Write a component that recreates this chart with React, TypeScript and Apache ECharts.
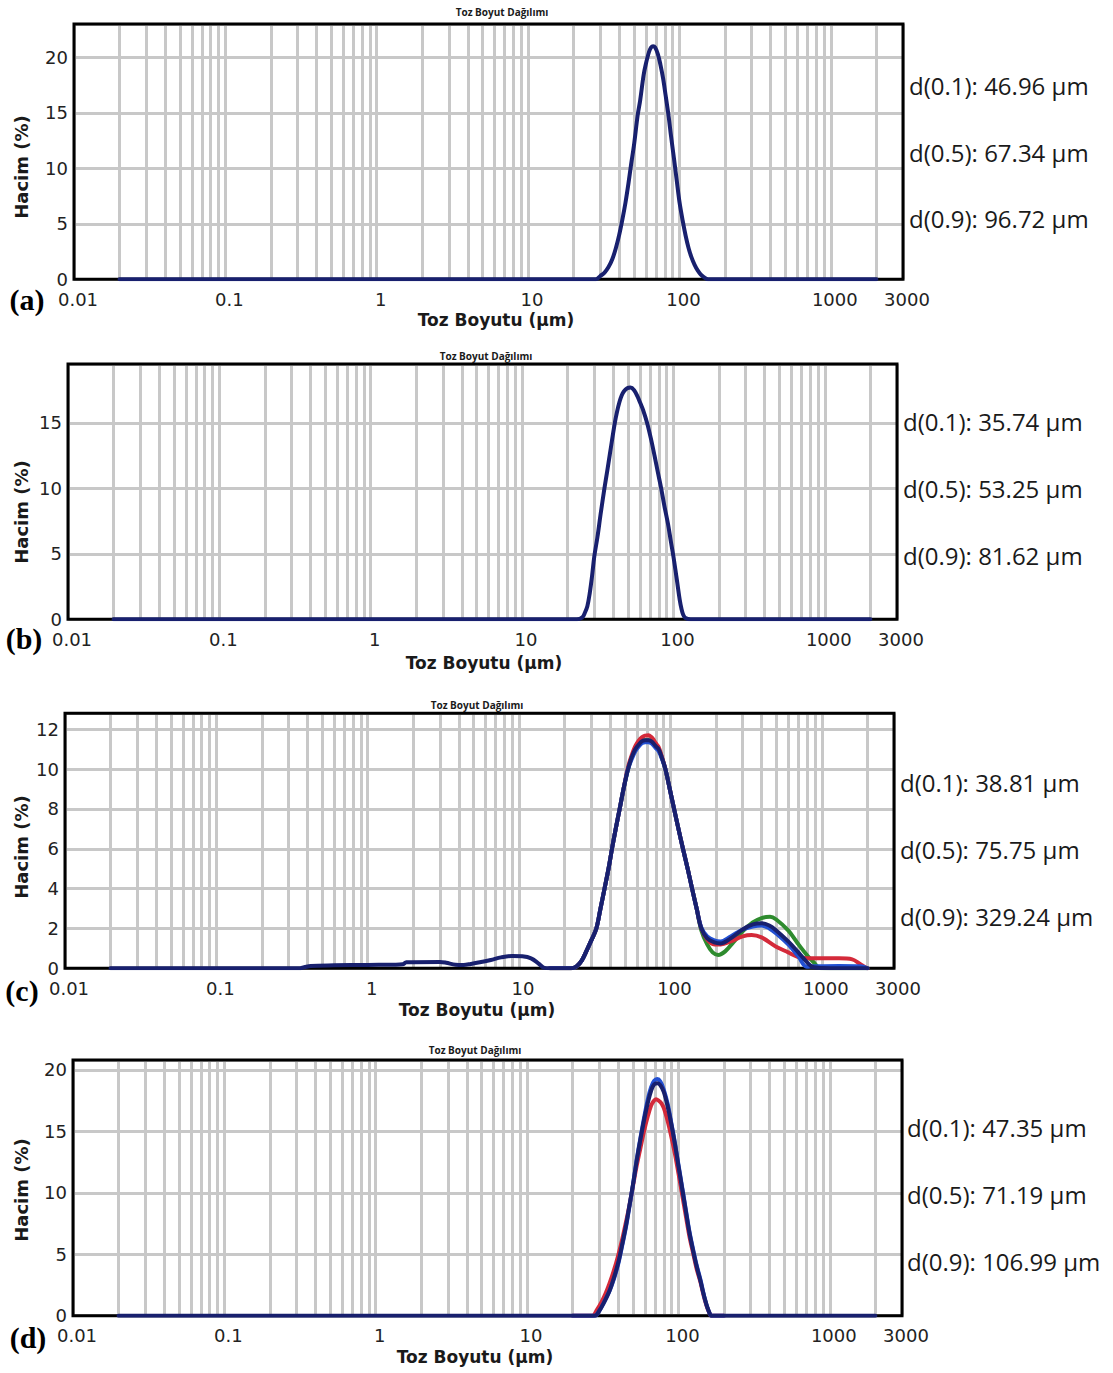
import React, { useEffect, useRef } from "react";
import * as echarts from "echarts";

// ---------- text & data ----------
const TITLE = "Toz Boyut Dağılımı";
const X_NAME = "Toz Boyutu (µm)";
const Y_NAME = "Hacim (%)";
const PANEL_LABELS = ["(a)", "(b)", "(c)", "(d)"];
const D_KEYS = ["d(0.1)", "d(0.5)", "d(0.9)"];
const D_VALUES_A = [46.96, 67.34, 96.72];
const D_VALUES_B = [35.74, 53.25, 81.62];
const D_VALUES_C = [38.81, 75.75, 329.24];
const D_VALUES_D = [47.35, 71.19, 106.99];

const X_MIN = 0.01;
const X_MAX = 3000;
const Y_MAX = [23, 19.5, 12.8, 20.8];
const Y_STEP = [5, 5, 2, 5];

// panel (a)
const A_NAVY = [[0.02,0],[28,0],[30,0.3],[32,0.6],[34,1.1],[36,1.8],[38,2.8],[40,4.0],[42,5.4],[44,6.9],[46,8.6],[48,10.4],[50,12.0],[53,14.8],[55,16.1],[58,18.4],[60,19.4],[63,20.5],[65,20.9],[67,21.0],[69,20.9],[72,20.3],[75,19.3],[78,18.1],[81,16.6],[85,14.6],[88,12.9],[92,10.9],[96,8.9],[100,7.0],[105,5.3],[110,3.9],[115,2.8],[120,2.0],[126,1.3],[132,0.8],[138,0.45],[145,0.2],[155,0],[2000,0]];

// panel (b)
const B_NAVY = [[0.02,0],[23,0],[25,0.15],[26,0.5],[27,1.0],[28,2.0],[29,3.3],[30,4.8],[31.5,6.3],[33,8],[35,10],[36.5,11.3],[38,12.6],[41,15],[42.5,15.9],[44,16.6],[45.5,17.1],[47,17.4],[49.5,17.65],[52,17.7],[55,17.5],[58,17.0],[60.5,16.5],[63,16.0],[67,15],[71,13.8],[75,12.5],[79,11.2],[83,10],[87,8.7],[92,7.3],[96,6.0],[100,4.8],[103,3.8],[106,2.8],[110,1.5],[113,0.8],[116,0.35],[120,0.1],[130,0],[2000,0]];

// panel (c)
const C_NAVY = [[0.02,0],[0.35,0],[0.38,0.05],[0.42,0.12],[0.6,0.15],[1.0,0.17],[1.5,0.18],[1.7,0.2],[1.8,0.3],[3.0,0.32],[3.3,0.28],[3.8,0.18],[4.3,0.17],[4.8,0.22],[5.5,0.3],[6.5,0.42],[7.6,0.55],[9.0,0.62],[10.5,0.6],[12,0.5],[13.4,0.25],[14.7,0.02],[16,0],[22,0],[24,0.1],[26,0.4],[28,0.9],[30,1.4],[32.4,2],[34.5,3],[36.7,4],[39,5],[41.1,6],[43.5,7],[46.2,8],[49,9],[52.5,10],[55.5,10.6],[58.6,11],[62,11.25],[65,11.4],[68,11.45],[71.8,11.45],[74.5,11.4],[77,11.3],[80,11.15],[83.6,11],[88,10.55],[92.6,10],[99,9],[105.7,8],[113,7],[121,6],[130,5],[139,4],[149,3],[160,2],[175,1.5],[195,1.3],[215,1.25],[250,1.5],[300,1.95],[350,2.2],[400,2.26],[450,2.15],[500,1.9],[600,1.35],[700,0.8],[800,0.3],[880,0.05],[1000,0.02],[2000,0]];
const C_RED = [[16,0],[22,0],[24,0.1],[26,0.4],[28,0.9],[30,1.4],[32.4,2],[34.5,3],[36.7,4],[39,5],[41.1,6],[43.5,7],[46.2,8],[49,9],[52.5,10.1],[55.5,10.7],[58.6,11.15],[62,11.45],[65,11.6],[68,11.68],[71.8,11.7],[74.5,11.62],[77,11.5],[80,11.3],[83.6,11.1],[88,10.6],[92.6,10],[99,9],[105.7,8],[113,7],[121,6],[130,5],[139,4],[149,3],[160,2],[175,1.45],[195,1.2],[215,1.2],[250,1.35],[300,1.6],[344,1.67],[400,1.55],[496,1.1],[600,0.8],[692,0.58],[800,0.5],[912,0.5],[1300,0.5],[1590,0.45],[1800,0.2],[1940,0.05],[2000,0]];
const C_GREEN = [[16,0],[22,0],[24,0.1],[26,0.4],[28,0.9],[30,1.4],[32.4,2],[34.5,3],[36.7,4],[39,5],[41.1,6],[43.5,7],[46.2,8],[49,9],[52.5,10],[55.5,10.6],[58.6,11],[62,11.25],[65,11.4],[68,11.45],[71.8,11.45],[74.5,11.4],[77,11.3],[80,11.15],[83.6,11],[88,10.55],[92.6,10],[99,9],[105.7,8],[113,7],[121,6],[130,5],[139,4],[149,3],[160,1.9],[175,1.2],[190,0.8],[207,0.67],[230,0.85],[260,1.3],[300,1.85],[350,2.3],[400,2.52],[455,2.59],[500,2.45],[600,1.9],[692,1.26],[800,0.65],[885,0.3],[950,0.05],[1000,0],[2000,0]];
const C_BLUE = [[16,0],[22,0],[24,0.1],[26,0.4],[28,0.9],[30,1.4],[32.4,2],[34.5,3],[36.7,4],[39,5],[41.1,6],[43.5,7],[46.2,8],[49,9],[52.5,10],[55.5,10.5],[58.6,10.9],[62,11.15],[65,11.3],[68,11.35],[71.8,11.35],[74.5,11.3],[77,11.2],[80,11.05],[83.6,10.9],[88,10.5],[92.6,10],[99,9],[105.7,8],[113,7],[121,6],[130,5],[139,4],[149,3],[160,2.05],[175,1.6],[195,1.4],[215,1.35],[250,1.6],[300,1.95],[350,2.1],[400,2.15],[450,2.0],[500,1.75],[600,1.2],[700,0.6],[794,0.08],[900,0.1],[1300,0.12],[1800,0.1],[2000,0]];

// panel (d)
const D_NAVY = [[0.02,0],[28,0],[30,0.4],[32,1.0],[35,2.0],[37.5,3.1],[40,4.3],[42.5,5.8],[45,7.3],[47.5,9.0],[50,10.6],[53,12.6],[56,14.3],[59.5,16.0],[63,17.4],[66,18.3],[69,18.8],[72.5,18.9],[76,18.75],[80,18.2],[85,17.0],[90,15.5],[95,13.9],[100,12.2],[106,10.3],[112,8.5],[118,6.8],[125,5.3],[132,4.0],[140,2.8],[145,2.0],[150,1.3],[155,0.7],[160,0.25],[165,0],[2000,0]];
const D_RED = [[20,0],[27,0],[29,0.5],[31,1.1],[33,1.8],[35,2.6],[37.5,3.7],[40,4.9],[42.5,6.2],[45,7.6],[47.5,9.0],[50,10.5],[53,12.2],[56,13.6],[59.5,15.1],[63,16.3],[66,17.1],[68.5,17.45],[71,17.6],[74,17.5],[77,17.3],[80,16.9],[85,15.8],[90,14.5],[95,13.1],[100,11.6],[106,9.8],[112,8.1],[118,6.5],[125,5.1],[132,3.8],[140,2.7],[145,1.9],[150,1.2],[155,0.65],[160,0.25],[165,0],[200,0]];
const D_LIGHT = [[20,0],[28,0],[30,0.4],[32,1.0],[35,2.0],[37.5,3.0],[40,4.2],[42.5,5.7],[45,7.2],[47.5,8.9],[50,10.6],[53,12.7],[56,14.4],[59.5,16.2],[63,17.7],[66,18.6],[69,19.1],[72.5,19.25],[76,19.05],[80,18.4],[85,17.2],[90,15.6],[95,14.0],[100,12.3],[106,10.4],[112,8.6],[118,6.9],[125,5.4],[132,4.1],[140,2.9],[145,2.05],[150,1.3],[155,0.7],[160,0.25],[165,0],[200,0]];

// ---------- styles & layout ----------
const NAVY = "#18206e";
const RED = "#d42a3a";
const GREEN = "#2e8b2e";
const BLUE = "#2350d2";
const GRID_COLOR = "#c8c8c8";

const LAYOUT = [
  { left: 74, top: 24, width: 829, height: 255.3, titleX: 502, titleY: 12, dX: 909, dY: [85, 152, 218], lab: [27, 299], yName: [21, 167], xName: [496, 320] },
  { left: 68, top: 364, width: 829, height: 255.3, titleX: 486, titleY: 356, dX: 903, dY: [421, 488, 555], lab: [24, 638], yName: [21, 512], xName: [484, 663] },
  { left: 65, top: 713.3, width: 829, height: 255, titleX: 477, titleY: 705, dX: 900, dY: [782, 849, 916], lab: [22, 990], yName: [21, 847], xName: [477, 1010] },
  { left: 73, top: 1060, width: 829, height: 255.7, titleX: 475, titleY: 1050, dX: 907, dY: [1127, 1194, 1261], lab: [28, 1337], yName: [21, 1190], xName: [475, 1357] },
];

const SERIES = [
  [{ data: A_NAVY, color: NAVY }],
  [{ data: B_NAVY, color: NAVY }],
  [
    { data: C_GREEN, color: GREEN },
    { data: C_RED, color: RED },
    { data: C_BLUE, color: BLUE },
    { data: C_NAVY, color: NAVY },
  ],
  [
    { data: D_RED, color: RED },
    { data: D_LIGHT, color: BLUE },
    { data: D_NAVY, color: NAVY },
  ],
];
const D_VALUES = [D_VALUES_A, D_VALUES_B, D_VALUES_C, D_VALUES_D];

// minor vertical grid lines at 2..9 x 10^k
const MINOR_X: number[] = [];
for (let e = -2; e <= 3; e++) {
  for (let m = 2; m <= 9; m++) {
    const v = Number((m * Math.pow(10, e)).toPrecision(3));
    if (v < X_MAX) MINOR_X.push(v);
  }
}

function fmtX(v: number) {
  return String(Number(Number(v).toPrecision(4)));
}

function textEl(x: number, y: number, text: string, o: any) {
  return {
    type: "text",
    x,
    y,
    rotation: o.rotation || 0,
    silent: true,
    z: 10,
    style: {
      text,
      fontSize: o.size,
      fontWeight: o.weight || "normal",
      fontFamily: o.family,
      fill: o.fill || "#1a1a1a",
      align: o.align || "center",
      verticalAlign: "middle",
      textAlign: o.align || "center",
      textVerticalAlign: "middle",
    },
  };
}

function buildOption() {
  const grid: any[] = [];
  const xAxis: any[] = [];
  const yAxis: any[] = [];
  const series: any[] = [];
  const graphic: any[] = [];

  LAYOUT.forEach((L, i) => {
    grid.push({
      left: L.left,
      top: L.top,
      width: L.width,
      height: L.height,
      show: true,
      borderColor: "#000",
      borderWidth: 3,
      backgroundColor: "transparent",
      z: 3,
    });
    xAxis.push({
      type: "log",
      logBase: 10,
      gridIndex: i,
      min: X_MIN,
      max: X_MAX,
      axisLine: { show: false },
      axisTick: { show: false },
      splitLine: { show: true, lineStyle: { color: GRID_COLOR, width: 3 } },
      axisLabel: {
        fontFamily: "DejaVu Sans",
        fontSize: 18,
        lineHeight: 18,
        color: "#222",
        margin: 11,
        padding: [0, 0, 0, 8],
        hideOverlap: false,
        showMinLabel: true,
        showMaxLabel: true,
        formatter: (v: number) => fmtX(v),
      },
    });
    const step = Y_STEP[i];
    yAxis.push({
      type: "value",
      gridIndex: i,
      min: 0,
      max: Y_MAX[i],
      interval: step,
      axisLine: { show: false },
      axisTick: { show: false },
      splitLine: { show: true, lineStyle: { color: GRID_COLOR, width: 3 } },
      axisLabel: {
        fontFamily: "DejaVu Sans",
        fontSize: 18,
        lineHeight: 16,
        color: "#222",
        margin: 6,
        formatter: (v: number) =>
          Math.abs(v / step - Math.round(v / step)) < 1e-6 ? String(Math.round(v)) : "",
      },
    });
    series.push({
      type: "line",
      xAxisIndex: i,
      yAxisIndex: i,
      data: [],
      z: 1,
      silent: true,
      markLine: {
        silent: true,
        z: 1,
        symbol: ["none", "none"],
        label: { show: false },
        emphasis: { disabled: true },
        lineStyle: { color: GRID_COLOR, width: 3, type: "solid" },
        data: MINOR_X.map((v) => ({ xAxis: v })),
      },
    });
    SERIES[i].forEach((s) => {
      series.push({
        type: "line",
        xAxisIndex: i,
        yAxisIndex: i,
        data: s.data,
        showSymbol: false,
        symbol: "none",
        smooth: 0.35,
        silent: true,
        z: 4,
        lineStyle: { color: s.color, width: 4, join: "round", cap: "round" },
      });
    });

    graphic.push(textEl(L.titleX, L.titleY, TITLE, { size: 10, weight: "bold", family: "Open Sans" }));
    graphic.push(textEl(L.lab[0], L.lab[1], PANEL_LABELS[i], { size: 30, weight: "bold", family: "Liberation Serif", fill: "#000" }));
    graphic.push(textEl(L.yName[0], L.yName[1], Y_NAME, { size: 18, weight: "bold", family: "DejaVu Sans", rotation: Math.PI / 2 }));
    graphic.push(textEl(L.xName[0], L.xName[1], X_NAME, { size: 17, weight: "bold", family: "DejaVu Sans" }));
    D_KEYS.forEach((k, j) => {
      graphic.push(
        textEl(L.dX, L.dY[j], `${k}: ${D_VALUES[i][j].toFixed(2)} µm`, {
          size: 24,
          family: "Open Sans",
          align: "left",
        })
      );
    });
  });

  return {
    animation: false,
    backgroundColor: "#fff",
    grid,
    xAxis,
    yAxis,
    series,
    graphic: { elements: graphic },
  };
}

export default function App() {
  const ref = useRef<HTMLDivElement>(null);
  useEffect(() => {
    const chart = echarts.init(ref.current!, null, { renderer: "svg" });
    chart.setOption(buildOption() as any);
    return () => chart.dispose();
  }, []);
  return (
    <div
      ref={ref}
      style={{ position: "absolute", left: 0, top: 0, width: 1113, height: 1373, background: "#fff" }}
    />
  );
}
